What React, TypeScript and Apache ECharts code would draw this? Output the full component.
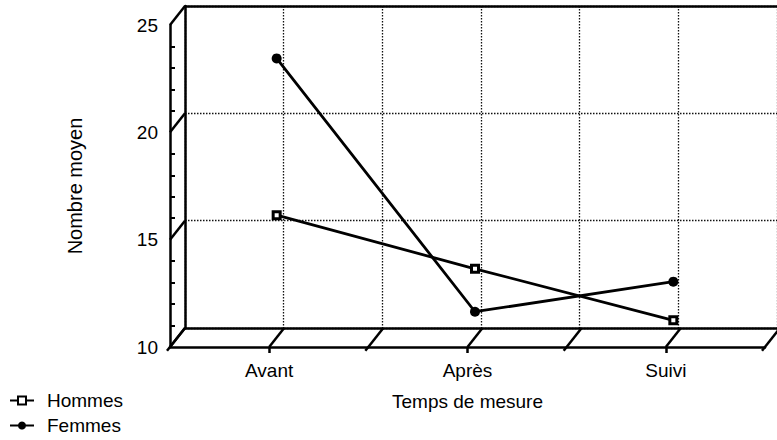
import React, { useEffect, useRef } from "react";
import * as echarts from "echarts";

// ---- data ----
const categories = ["Avant", "Après", "Suivi"];
const seriesNames = ["Hommes", "Femmes"];
const hommes = [15.7, 13.2, 10.8];
const femmes = [23.0, 11.2, 12.6];
const yTickValues = [10, 15, 20, 25];
const xAxisTitle = "Temps de mesure";
const yAxisTitle = "Nombre moyen";

// ---- layout / style ----
const FONT = "'Liberation Sans', Arial, Helvetica, sans-serif";
const Y_MIN = 10;
const Y_MAX = 25;
const Y_STEP = 5;
const X_SLOTS = categories.length * 2; // each category occupies two slots
const DX = 15; // depth offset (px)
const DY = -19;
const FRONT = { left: 170, top: 25, width: 595, height: 322 };

const App: React.FC = () => {
  const ref = useRef<HTMLDivElement>(null);

  useEffect(() => {
    if (!ref.current) return;
    const chart = echarts.init(ref.current, undefined, { renderer: "svg" });

    const mid = {
      left: FRONT.left + DX / 2,
      top: FRONT.top + DY / 2,
      width: FRONT.width,
      height: FRONT.height,
    };
    const back = {
      left: FRONT.left + DX,
      top: FRONT.top + DY,
      width: FRONT.width,
      height: FRONT.height,
    };

    const slotTicks: number[] = [];
    for (let k = 0; k <= X_SLOTS; k++) slotTicks.push(k);

    const depthData = [
      ...yTickValues.map((v) => [0, v, 0]),
      ...slotTicks.map((k) => [k, Y_MIN, k % 2 === 0 ? 1 : 0]),
    ];

    const toXY = (vals: number[]) => vals.map((v, i) => [2 * i + 1, v]);

    const valueX = (gridIndex: number, extra: any = {}) => ({
      type: "value",
      gridIndex,
      min: 0,
      max: X_SLOTS,
      interval: 1,
      axisLabel: { show: false },
      axisTick: { show: false },
      axisLine: { show: false },
      splitLine: { show: false },
      ...extra,
    });
    const valueY = (gridIndex: number, extra: any = {}) => ({
      type: "value",
      gridIndex,
      min: Y_MIN,
      max: Y_MAX,
      interval: Y_STEP,
      axisLabel: { show: false },
      axisTick: { show: false },
      axisLine: { show: false },
      splitLine: { show: false },
      ...extra,
    });

    const solid = { color: "#000", width: 2.5 };
    const dotted = { color: "#111", width: 1.3, type: [1.5, 1.5] };

    const option: any = {
      animation: false,
      textStyle: { fontFamily: FONT, color: "#000" },
      grid: [{ ...FRONT }, { ...mid }, { ...back }],
      xAxis: [
        // 0: front value axis (floor front edge)
        valueX(0, { axisLine: { show: true, lineStyle: solid } }),
        // 1: front category axis (labels + ticks)
        {
          type: "category",
          gridIndex: 0,
          position: "bottom",
          data: categories,
          boundaryGap: true,
          axisLine: { show: false },
          axisTick: {
            show: true,
            alignWithLabel: true,
            length: 6,
            lineStyle: { color: "#000", width: 2.5 },
          },
          axisLabel: {
            show: true,
            fontSize: 19,
            fontFamily: FONT,
            color: "#000",
            margin: 14,
          },
          name: xAxisTitle,
          nameLocation: "middle",
          nameGap: 45,
          nameTextStyle: { fontSize: 19, fontFamily: FONT, color: "#000" },
        },
        // 2: middle plane (series)
        valueX(1, { show: false }),
        // 3: back wall bottom
        valueX(2, {
          axisLine: { show: true, lineStyle: solid },
          splitLine: { show: true, lineStyle: dotted },
        }),
        // 4: back wall top edge
        valueX(2, {
          position: "top",
          axisLine: { show: true, lineStyle: solid },
        }),
      ],
      yAxis: [
        // 0: front axis
        valueY(0, {
          axisLine: { show: true, lineStyle: solid },
          axisTick: { show: false, inside: true },
          minorTick: {
            show: true,
            splitNumber: 5,
            length: 5,
            lineStyle: { color: "#000", width: 2 },
          },
          axisLabel: {
            show: true,
            fontSize: 19,
            fontFamily: FONT,
            color: "#000",
            margin: 12,
          },
          name: yAxisTitle,
          nameLocation: "middle",
          nameGap: 85,
          nameRotate: 90,
          nameTextStyle: { fontSize: 20, fontFamily: FONT, color: "#000" },
        }),
        // 1: middle plane
        valueY(1, { show: false }),
        // 2: back wall
        valueY(2, {
          axisLine: { show: true, lineStyle: solid },
          splitLine: { show: true, lineStyle: dotted },
        }),
      ],
      legend: {
        data: seriesNames,
        orient: "vertical",
        left: 4,
        top: 386,
        height: 80,
        itemWidth: 24,
        itemHeight: 10,
        itemGap: 6,
        textStyle: {
          fontSize: 19,
          fontFamily: FONT,
          color: "#000",
          padding: [0, 0, 0, 8],
        },
      },
      series: [
        {
          type: "custom",
          name: "depth",
          xAxisIndex: 0,
          yAxisIndex: 0,
          silent: true,
          clip: false,
          data: depthData,
          renderItem: (params: any, api: any) => {
            const p = api.coord([api.value(0), api.value(1)]);
            const ext = api.value(2) ? 3 : 0;
            const k = DY / DX;
            return {
              type: "line",
              shape: {
                x1: p[0] - ext,
                y1: p[1] - ext * k,
                x2: p[0] + DX,
                y2: p[1] + DY,
              },
              style: { stroke: "#000", lineWidth: 2.5 },
            };
          },
          z: 3,
        },
        {
          type: "line",
          name: seriesNames[0],
          xAxisIndex: 2,
          yAxisIndex: 1,
          data: toXY(hommes),
          symbol: "rect",
          symbolSize: 7,
          lineStyle: { color: "#000", width: 2.8 },
          itemStyle: { color: "#fff", borderColor: "#000", borderWidth: 3 },
          z: 5,
        },
        {
          type: "line",
          name: seriesNames[1],
          xAxisIndex: 2,
          yAxisIndex: 1,
          data: toXY(femmes),
          symbol: "circle",
          symbolSize: 10,
          lineStyle: { color: "#000", width: 2.8 },
          itemStyle: { color: "#000", borderColor: "#000", borderWidth: 0 },
          z: 5,
        },
      ],
    };

    chart.setOption(option);
    return () => chart.dispose();
  }, []);

  return (
    <div
      ref={ref}
      style={{
        position: "absolute",
        left: 0,
        top: 0,
        width: 777,
        height: 440,
        background: "#fff",
      }}
    />
  );
};

export default App;
